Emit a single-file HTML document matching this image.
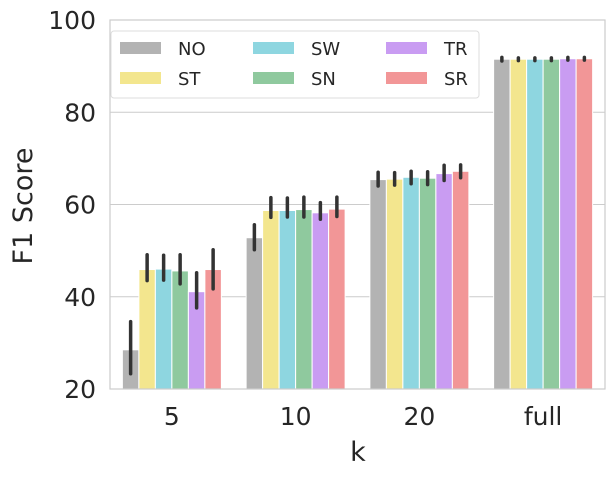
<!DOCTYPE html>
<html><head><meta charset="utf-8"><style>
body{margin:0;background:#fff;}
svg text{font-family:"DejaVu Sans","Liberation Sans",sans-serif;fill:#262626;}
</style></head><body>
<svg id="chart" width="616" height="476" xmlns="http://www.w3.org/2000/svg">
<g id="grid"></g>
<g id="bars"></g>
<g id="errs"></g>
<rect x="110" y="20" width="495" height="369" fill="none" stroke="#cccccc" stroke-width="1.2"/>
<g id="yticks"></g>
<g id="xticks"></g>
<text x="0" y="0" transform="translate(32,206) rotate(-90)" text-anchor="middle" font-size="27">F1 Score</text>
<text x="358" y="461" text-anchor="middle" font-size="27">k</text>
<g id="legend">
<rect x="111" y="31" width="368" height="67" rx="3" fill="#fff" fill-opacity="0.85" stroke="#dddddd"/>
</g>
</svg>
<script>
const categories=["5","10","20","full"];
const seriesNames=["NO","ST","SW","SN","TR","SR"];
const colors=["#b3b3b3","#f3e68e","#8ed6e0","#8fc99e","#c99cf2","#f29697"];
const valsNO=[28.5,52.8,65.4,91.5];
const valsST=[45.9,58.7,65.5,91.5];
const valsSW=[46.0,58.7,65.9,91.5];
const valsSN=[45.6,58.9,65.7,91.5];
const valsTR=[41.1,58.2,66.7,91.6];
const valsSR=[45.9,59.0,67.2,91.6];
const errLo=[[23.3,50.2,64.0,91.1],[43.5,57.2,64.2,91.2],[43.6,57.3,64.5,91.2],[42.8,57.3,64.3,91.2],[37.6,56.8,65.2,91.3],[41.7,57.4,65.8,91.3]];
const errHi=[[34.6,55.6,67.0,91.9],[49.1,61.5,66.9,91.8],[49.0,61.4,67.2,91.8],[49.1,61.6,67.1,91.8],[45.2,60.4,68.5,91.9],[50.2,61.6,68.6,91.9]];
const yTicks=[20,40,60,80,100];
const allVals=[valsNO,valsST,valsSW,valsSN,valsTR,valsSR];
const NS="http://www.w3.org/2000/svg";
const L=110,R=605,T=20,B=389,ymin=20,ymax=100;
const y=v=>B-(v-ymin)/(ymax-ymin)*(B-T);
const gw=(R-L)/categories.length, bw=gw*0.8/seriesNames.length;
const gx=i=>L+gw*(i+0.5);
const bx=(i,s)=>gx(i)-gw*0.4+s*bw;
function mk(tag,attrs,parent){const e=document.createElementNS(NS,tag);for(const k in attrs)e.setAttribute(k,attrs[k]);document.getElementById(parent).appendChild(e);return e;}
yTicks.forEach(t=>{
  const l=mk('line',{x1:L,x2:R,y1:y(t),y2:y(t),stroke:'#cccccc','stroke-width':1},'grid');
  
  
  const tx=mk('text',{x:96,y:y(t)+9,'text-anchor':'end','font-size':25},'yticks');
  tx.textContent=t;
  
  
});
categories.forEach((c,i)=>{
  const tx=mk('text',{x:gx(i),y:425,'text-anchor':'middle','font-size':25},'xticks');
  tx.textContent=c;
  
  
  allVals.forEach((vals,s)=>{
    const r=mk('rect',{x:bx(i,s),y:y(vals[i]),width:bw,height:B-y(vals[i]),fill:colors[s],stroke:'#fff','stroke-width':1},'bars');
    
    
    const e=mk('line',{x1:bx(i,s)+bw/2,x2:bx(i,s)+bw/2,y1:y(errLo[s][i]),y2:y(errHi[s][i]),stroke:'#333','stroke-width':3.5,'stroke-linecap':'round'},'errs');
    
    
  });
});
seriesNames.forEach((n,s)=>{
  const col=Math.floor(s/2),row=s%2;
  const px=120+col*133,py=42+row*30;
  const p=mk('rect',{x:px,y:py,width:41,height:12,fill:colors[s]},'legend');
  
  
  const t=mk('text',{x:px+58,y:py+13,'font-size':18},'legend');
  t.textContent=n;
  
  
});
</script>
</body></html>
